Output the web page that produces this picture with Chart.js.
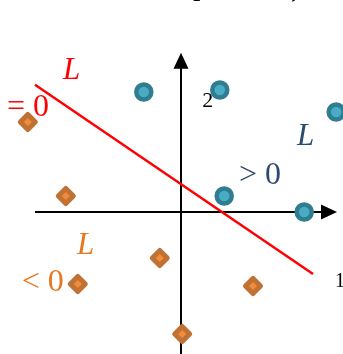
<!DOCTYPE html>
<html>
<head>
<meta charset="utf-8">
<script src="https://cdn.jsdelivr.net/npm/chart.js@4.4.0/dist/chart.umd.min.js"></script>
<style>
  html, body { margin: 0; padding: 0; background: #ffffff; }
  #wrap { width: 343px; height: 354px; }
</style>
</head>
<body>
<div id="wrap"><canvas id="chart" width="343" height="354"></canvas></div>
<script>
// Points of the two classes (x1, x2)
const positiveX = [-0.93, 0.97, 3.88, 1.08, 3.08];
const positiveY = [3.0, 3.05, 2.5, 0.4, 0.0];
const negativeX = [-3.83, -2.88, -0.53, -2.58, 1.8, 0.03];
const negativeY = [2.25, 0.4, -1.15, -1.8, -1.85, -3.05];

// Decision line L = 0, two end points
const lineX = [-3.65, 3.3];
const lineY = [3.18, -1.55];

// Axis extents
const axisX = [-3.65, 3.9];
const axisY = [-3.6, 3.98];

const toPoints = (xs, ys) => xs.map((x, i) => ({ x: x, y: ys[i] }));

// Labels drawn on top of the plot (text, data position, style)
const labels = [
    { text: 'L', x: -2.95, y: 3.33, color: '#ff0000', font: 'italic 31px "Liberation Serif"' },
    { text: '= 0', x: -4.35, y: 2.4, color: '#ff0000', font: '32px "Liberation Serif"' },
    { text: '2', x: 0.53, y: 2.63, color: '#000000', font: '22px "Liberation Serif"' },
    { text: 'L', x: 2.9, y: 1.68, color: '#2c4a6e', font: 'italic 31px "Liberation Serif"' },
    { text: '> 0', x: 1.45, y: 0.7, color: '#2c4a6e', font: '32px "Liberation Serif"' },
    { text: 'L', x: -2.6, y: -1.05, color: '#e8761e', font: 'italic 31px "Liberation Serif"' },
    { text: '< 0', x: -3.98, y: -1.98, color: '#e8761e', font: '32px "Liberation Serif"' },
    { text: '1', x: 3.85, y: -1.88, color: '#000000', font: '20px "Liberation Serif"' },
    { text: 'p', x: 0.3, y: 5.42, color: '#000000', font: '30px "Liberation Serif"' },
    { text: ',', x: 2.75, y: 5.37, color: '#000000', font: '30px "Liberation Serif"' }
];

const axesPlugin = {
    id: 'axes',
    beforeDatasetsDraw(chart) {
        const ctx = chart.ctx;
        const xs = chart.scales.x, ys = chart.scales.y;
        const ox = xs.getPixelForValue(0), oy = ys.getPixelForValue(0);
        const x0 = xs.getPixelForValue(axisX[0]), x1 = xs.getPixelForValue(axisX[1]);
        const y0 = ys.getPixelForValue(axisY[0]), y1 = ys.getPixelForValue(axisY[1]);
        ctx.save();
        ctx.strokeStyle = '#000000';
        ctx.fillStyle = '#000000';
        ctx.lineWidth = 2;
        ctx.beginPath();
        ctx.moveTo(x0, oy); ctx.lineTo(x1 - 10, oy);
        ctx.moveTo(ox, y0); ctx.lineTo(ox, y1 + 10);
        ctx.stroke();
        // arrow heads
        ctx.beginPath();
        ctx.moveTo(x1, oy); ctx.lineTo(x1 - 16, oy - 7.5); ctx.lineTo(x1 - 16, oy + 7.5);
        ctx.closePath(); ctx.fill();
        ctx.beginPath();
        ctx.moveTo(ox, y1); ctx.lineTo(ox - 7.5, y1 + 16); ctx.lineTo(ox + 7.5, y1 + 16);
        ctx.closePath(); ctx.fill();
        // text labels
        ctx.textBaseline = 'alphabetic';
        ctx.textAlign = 'left';
        labels.forEach(l => {
            ctx.font = l.font;
            ctx.fillStyle = l.color;
            ctx.fillText(l.text, xs.getPixelForValue(l.x), ys.getPixelForValue(l.y));
        });
        ctx.restore();
        // rounded corners for the diamond markers
        ctx.lineJoin = 'round';
    }
};

new Chart(document.getElementById('chart').getContext('2d'), {
    type: 'scatter',
    data: {
        datasets: [
            {
                label: 'L > 0',
                data: toPoints(positiveX, positiveY),
                pointStyle: 'circle',
                radius: 7.5,
                borderWidth: 4.5,
                backgroundColor: '#4aabc4',
                borderColor: '#2e7d90',
                order: 1
            },
            {
                label: 'L < 0',
                data: toPoints(negativeX, negativeY),
                pointStyle: 'rectRot',
                radius: 7.5,
                borderWidth: 5,
                backgroundColor: '#f28c3c',
                borderColor: '#bf7234',
                order: 2
            },
            {
                type: 'line',
                label: 'L = 0',
                data: toPoints(lineX, lineY),
                borderColor: '#ff0000',
                borderWidth: 2.5,
                pointRadius: 0,
                fill: false,
                order: 3
            }
        ]
    },
    options: {
        responsive: false,
        animation: false,
        layout: { padding: 0, autoPadding: false },
        plugins: {
            legend: { display: false },
            tooltip: { enabled: false }
        },
        scales: {
            x: { type: 'linear', display: false, min: -4.525, max: 4.05 },
            y: { type: 'linear', display: false, min: -3.55, max: 5.3 }
        }
    },
    plugins: [axesPlugin]
});
</script>
</body>
</html>
